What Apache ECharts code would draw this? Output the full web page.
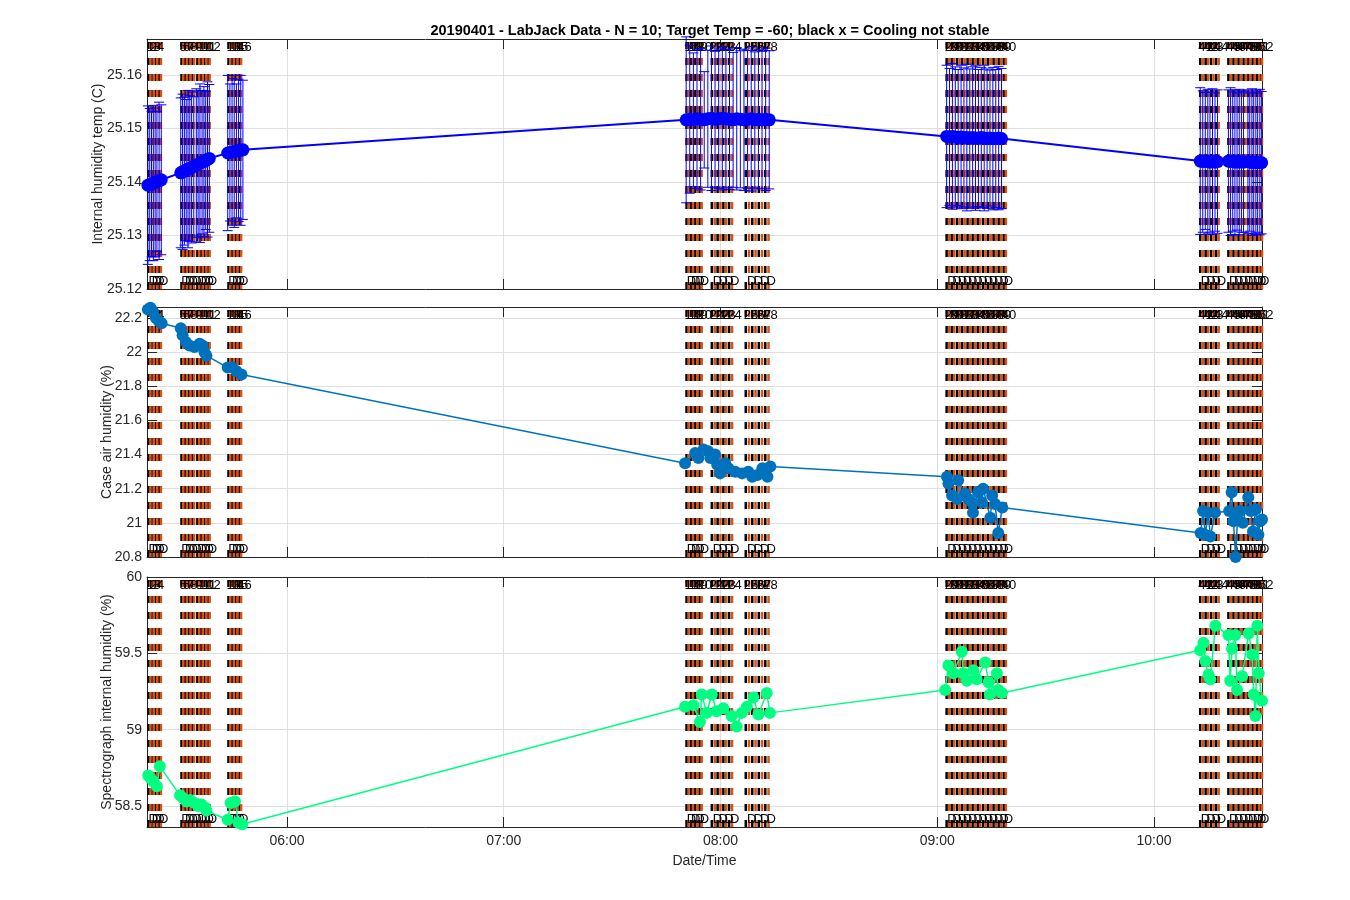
<!DOCTYPE html>
<html><head><meta charset="utf-8">
<script src="https://cdn.jsdelivr.net/npm/echarts@6/dist/echarts.min.js"></script>
<style>html,body{margin:0;padding:0;background:#fff}#c{width:1350px;height:900px}</style>
</head><body><div id="c"></div>
<script>
const chartTitle = '20190401 - LabJack Data - N = 10; Target Temp = -60; black x = Cooling not stable';
const yNames = ['Internal humidity temp (C)', 'Case air humidity (%)', 'Spectrograph internal humidity (%)'];
const xName = 'Date/Time';

// measurement start times (minutes of day) -> black dashed lines with numbers
const measTimes = [321.7,322.6,323.6,324.6, 330.8,331.8,332.8,333.8,335.2,336.2,337.2,338.2, 343.8,344.8,345.8,346.8,
  470.6,471.8,473.0,474.2,477.6,479.2,480.8,482.4,487.0,488.8,490.6,492.4,
  542.6,544.0,545.5,546.9,548.4,549.8,551.2,552.7,554.1,555.6,557.0,558.4,
  612.8,614.3,615.8,617.2,620.6,622.0,623.4,624.8,626.0,627.3,628.6,629.6];
const measLabels = ['1','2','3','4','5','6','7','8','9','10','11','12','13','14','15','16',
  '17','18','19','20','21','22','23','24','25','26','27','28',
  '29','30','31','32','33','34','35','36','37','38','39','40',
  '41','42','43','44','45','46','47','48','49','50','51','52'];
// measurement end times -> orange dashed lines with "D"
const endTimes = [322.2,323.1,324.1,325.1, 331.3,332.3,333.3,334.3,335.7,336.7,337.7,338.6, 344.3,345.3,346.3,347.3,
  471.2,472.4,473.6,474.8,478.4,480.0,481.6,483.2,487.9,489.7,491.5,493.3,
  543.3,544.7,546.2,547.6,549.1,550.5,551.9,553.4,554.8,556.3,557.7,559.0,
  613.5,615.0,616.5,617.9,621.3,622.7,624.1,625.5,626.6,627.9,629.1,629.9];
const endLabels = ['D','D','D','D','D','D','D','D','D','D','D','D','D','D','D','D',
  'D','D','D','D','D','D','D','D','D','D','D','D',
  'D','D','D','D','D','D','D','D','D','D','D','D',
  'D','D','D','D','D','D','D','D','D','D','D','D'];

// Panel 1: internal humidity temp mean and error
const tempTimes = [321.5,322.0,322.5,323.0,323.5,324.0,324.6,325.2,
  330.6,331.1,331.6,332.1,332.6,333.1,333.6,334.2,334.9,335.4,335.9,336.5,337.0,337.5,338.0,338.5,
  343.6,344.2,344.8,345.4,346.0,346.6,347.2,347.8,
  470.5,471.5,472.5,473.5,474.5,475.5,476.5,477.5,478.5,479.5,480.5,481.5,482.5,483.5,484.5,485.5,486.5,487.5,488.5,489.5,490.5,491.5,492.5,493.5,
  542.6,543.4,544.2,545.0,545.8,546.6,547.4,548.2,549.0,549.8,550.6,551.4,552.2,553.0,553.8,554.6,555.4,556.2,557.0,557.8,
  612.8,613.5,614.2,614.9,615.5,616.2,616.9,617.6, 620.6,621.2,621.8,622.4,623.0,623.6,624.2,624.8, 626.0,626.5,627.1,627.6,628.2,628.7,629.3,629.8];
const tempMean = [25.1394,25.1395,25.1396,25.1398,25.1399,25.1401,25.1402,25.1404,
  25.1417,25.1419,25.1420,25.1422,25.1424,25.1425,25.1427,25.1429,25.1431,25.1433,25.1435,25.1437,25.1438,25.1440,25.1442,25.1444,
  25.1454,25.1455,25.1456,25.1457,25.1458,25.1459,25.1459,25.1460,
  25.1516,25.1517,25.1516,25.1518,25.1517,25.1516,25.1518,25.1519,25.1517,25.1518,25.1519,25.1518,25.1517,25.1516,25.1518,25.1517,25.1516,25.1517,25.1518,25.1516,25.1517,25.1516,25.1517,25.1516,
  25.1485,25.1484,25.1485,25.1484,25.1483,25.1484,25.1483,25.1483,25.1482,25.1483,25.1482,25.1482,25.1483,25.1482,25.1481,25.1482,25.1481,25.1481,25.1482,25.1481,
  25.1439,25.1438,25.1439,25.1438,25.1437,25.1438,25.1437,25.1438, 25.1439,25.1438,25.1438,25.1437,25.1438,25.1437,25.1438,25.1437, 25.1438,25.1437,25.1437,25.1436,25.1437,25.1436,25.1437,25.1436];
const tempErr = [0.0148,0.0142,0.0136,0.0145,0.0139,0.0131,0.0147,0.0140,
  0.0140,0.0145,0.0138,0.0132,0.0147,0.0136,0.0141,0.0130,0.0143,0.0137,0.0148,0.0134,0.0140,0.0129,0.0145,0.0138,
  0.0145,0.0128,0.0137,0.0142,0.0125,0.0133,0.0140,0.0130,
  0.0155,0.0138,0.0125,0.0130,0.0132,0.0090,0.0128,0.0135,0.0127,0.0130,0.0134,0.0129,0.0131,0.0126,0.0133,0.0128,0.0132,0.0129,0.0135,0.0127,0.0130,0.0128,0.0133,0.0129,
  0.0133,0.0128,0.0136,0.0131,0.0127,0.0134,0.0130,0.0137,0.0129,0.0132,0.0135,0.0128,0.0131,0.0136,0.0130,0.0127,0.0133,0.0129,0.0134,0.0131,
  0.0137,0.0132,0.0128,0.0135,0.0131,0.0136,0.0129,0.0134, 0.0133,0.0138,0.0130,0.0135,0.0128,0.0136,0.0132,0.0131, 0.0134,0.0129,0.0137,0.0132,0.0135,0.0130,0.0136,0.0133];

// Panel 2: case air humidity
const caseTimes = [321.5,322.2,322.9,323.7,324.6,325.3,
  330.6,331.1,332.0,333.0,334.4,335.8,336.6,337.2,337.7,
  343.6,344.8,346.0,347.4,
  470.2,473.0,473.9,475.3,476.6,477.2,478.5,479.1,479.9,481.3,482.2,484.1,486.0,487.7,488.8,490.2,491.6,493.0,493.8,
  542.7,543.1,544.1,545.5,545.8,547.7,548.6,549.7,549.9,551.3,552.4,552.7,554.7,555.2,556.0,556.9,558.0,
  612.9,613.6,614.2,615.0,615.6,616.9,620.8,621.5,622.0,622.6,623.2,623.9,624.6,626.1,626.8,627.4,628.2,628.9,629.4,629.9];
const caseVals = [22.25,22.26,22.24,22.20,22.18,22.17,
  22.14,22.10,22.06,22.04,22.03,22.05,22.04,22.00,21.98,
  21.91,21.91,21.89,21.87,
  21.35,21.41,21.38,21.43,21.42,21.38,21.40,21.34,21.29,21.35,21.32,21.30,21.29,21.30,21.27,21.28,21.32,21.27,21.33,
  21.27,21.23,21.16,21.14,21.25,21.17,21.14,21.12,21.06,21.18,21.12,21.20,21.03,21.16,21.11,20.94,21.09,
  20.94,21.07,20.93,21.06,20.92,21.06,21.07,21.18,21.01,20.80,21.06,21.07,21.00,21.15,21.07,20.95,21.08,20.93,21.01,21.02];

// Panel 3: spectrograph internal humidity
const specTimes = [321.6,322.3,323.0,324.0,324.8,
  330.4,331.3,332.2,333.2,334.5,335.4,336.3,337.3,337.7,
  343.6,344.4,345.6,346.6,347.6,
  470.2,472.5,474.3,474.8,476.2,477.6,478.9,480.8,483.1,484.5,485.9,487.3,489.1,490.5,492.8,493.7,
  542.2,543.1,544.5,546.8,547.2,548.2,550.0,550.9,553.3,554.2,554.6,556.5,556.9,557.9,
  612.8,613.7,614.2,615.1,615.6,617.0,620.6,621.1,621.6,622.5,623.0,624.4,626.2,627.2,627.6,628.1,628.6,629.0,629.9];
const specVals = [58.70,58.68,58.66,58.63,58.76,
  58.57,58.55,58.53,58.54,58.52,58.50,58.51,58.49,58.47,
  58.41,58.52,58.53,58.39,58.38,
  59.15,59.16,59.05,59.23,59.11,59.23,59.12,59.14,59.09,59.02,59.11,59.15,59.21,59.10,59.24,59.11,
  59.26,59.42,59.37,59.51,59.37,59.32,59.39,59.33,59.44,59.31,59.23,59.37,59.26,59.24,
  59.52,59.57,59.45,59.36,59.33,59.68,59.62,59.32,59.53,59.62,59.26,59.35,59.63,59.49,59.23,59.09,59.68,59.37,59.19];

const FONT = '"Liberation Sans", Arial, Helvetica, sans-serif';
const base = new Date(2019, 3, 1).getTime();
const ms = m => base + m * 60000;
const X_MIN = ms(321.25), X_MAX = ms(629.9);

const grids = [
  {left:147, top:39, width:1115, height:250},
  {left:147, top:307, width:1115, height:250},
  {left:147, top:577, width:1115, height:250}
];
const yCfg = [
  {min:25.12, max:25.1667, interval:0.01, step:0.01, nameGap:42},
  {min:20.8, max:22.265, interval:0.2, step:0.2, nameGap:33},
  {min:58.3625, max:60, splitNumber:3, step:0.5, nameGap:33}
];
const pad = n => (n < 10 ? '0' : '') + n;
const TXT = '#262626';
const xAxes = [], yAxes = [];
grids.forEach((g, i) => {
  xAxes.push({
    type:'time', gridIndex:i, min:X_MIN, max:X_MAX, position:'bottom',
    name: i === 2 ? xName : '', nameLocation:'middle', nameGap:27, nameMoveOverlap:false,
    nameTextStyle:{fontFamily:FONT, fontSize:14, color:TXT},
    axisLine:{show:true, onZero:false, lineStyle:{color:TXT, width:1}},
    axisTick:{show:true, inside:true, length:10, lineStyle:{color:TXT}},
    minorTick:{show:false},
    axisLabel:{show: i === 2, color:TXT, fontFamily:FONT, fontSize:14, margin:7,
      showMinLabel:false, showMaxLabel:false,
      formatter: v => { const d = new Date(v); return d.getMinutes() === 0 && d.getSeconds() === 0 ? pad(d.getHours()) + ':' + pad(d.getMinutes()) : ''; }},
    splitLine:{show:true, lineStyle:{color:'#dfdfdf', width:1}}
  });
  xAxes.push({
    type:'time', gridIndex:i, min:X_MIN, max:X_MAX, position:'top',
    axisLine:{show:true, onZero:false, lineStyle:{color:TXT, width:1}},
    axisTick:{show:true, inside:true, length:10, lineStyle:{color:TXT}},
    axisLabel:{show:false}, splitLine:{show:false}
  });
  const c = yCfg[i];
  const onStep = v => Math.abs(v / c.step - Math.round(v / c.step)) < 1e-4;
  const yl = {
    type:'value', gridIndex:i, min:c.min, max:c.max, position:'left',
    name: yNames[i], nameLocation:'middle', nameGap:c.nameGap, nameRotate:90, nameMoveOverlap:false,
    nameTextStyle:{fontFamily:FONT, fontSize:14, color:TXT},
    axisLine:{show:true, onZero:false, lineStyle:{color:TXT, width:1}},
    axisTick:{show:true, inside:true, length:10, lineStyle:{color:TXT}},
    axisLabel:{color:TXT, fontFamily:FONT, fontSize:14, margin:5,
      formatter: v => onStep(v) ? String(+(Math.round(v / c.step) * c.step).toFixed(4)) : ''},
    splitLine:{show:true, lineStyle:{color:'#dfdfdf', width:1}}
  };
  if (c.interval) yl.interval = c.interval; else yl.splitNumber = c.splitNumber;
  yAxes.push(yl);
  const yr = {
    type:'value', gridIndex:i, min:c.min, max:c.max, position:'right',
    axisLine:{show:true, onZero:false, lineStyle:{color:TXT, width:1}},
    axisTick:{show:true, inside:true, length:10, lineStyle:{color:TXT}},
    axisLabel:{show:false}, splitLine:{show:false}
  };
  if (c.interval) yr.interval = c.interval; else yr.splitNumber = c.splitNumber;
  yAxes.push(yr);
});

function vlines(gi, times, labels, color, top) {
  return {
    type:'custom', xAxisIndex:gi*2, yAxisIndex:gi*2, silent:true, z:1, clip:false,
    data: times.map(t => [ms(t)]),
    encode:{x:0},
    renderItem(params, api) {
      const cs = params.coordSys;
      const x = api.coord([api.value(0), yCfg[gi].min])[0];
      const kids = [{type:'line', shape:{x1:x, y1:cs.y + cs.height, x2:x, y2:cs.y},
        style:{stroke:color, lineWidth:2.5, lineDash:[7,9]}}];
      kids.push({type:'text', z2:10, style:{text: labels[params.dataIndex], x:x - 2, y: top ? cs.y + 2 : cs.y + cs.height - 1,
        align:'left', verticalAlign: top ? 'top' : 'bottom', fill:'#000', font:'13px ' + FONT}});
      return {type:'group', children:kids};
    }
  };
}
function line(gi, times, vals, color, width, size) {
  return {type:'line', xAxisIndex:gi*2, yAxisIndex:gi*2, z:5,
    data: times.map((t, k) => [ms(t), vals[k]]),
    symbol:'circle', symbolSize:size, showAllSymbol:true, animation:false,
    itemStyle:{color:color}, lineStyle:{color:color, width:width}};
}
const errSeries = {
  type:'custom', xAxisIndex:0, yAxisIndex:0, z:4, silent:true,
  data: tempTimes.map((t, k) => [ms(t), tempMean[k] - tempErr[k], tempMean[k] + tempErr[k]]),
  encode:{x:0, y:[1,2]},
  renderItem(params, api) {
    const lo = api.coord([api.value(0), api.value(1)]);
    const hi = api.coord([api.value(0), api.value(2)]);
    const s = {stroke:'#0000ff', lineWidth:1};
    return {type:'group', children:[
      {type:'line', shape:{x1:lo[0], y1:lo[1], x2:hi[0], y2:hi[1]}, style:s},
      {type:'line', shape:{x1:lo[0]-5, y1:lo[1], x2:lo[0]+5, y2:lo[1]}, style:s},
      {type:'line', shape:{x1:hi[0]-5, y1:hi[1], x2:hi[0]+5, y2:hi[1]}, style:s}
    ]};
  }
};

const series = [];
for (let g = 0; g < 3; g++) {
  series.push(vlines(g, measTimes, measLabels, '#000000', true));
  series.push(vlines(g, endTimes, endLabels, '#D95319', false));
}
series.push(errSeries);
series.push(line(0, tempTimes, tempMean, '#0000ff', 2, 13));
series.push(line(1, caseTimes, caseVals, '#0072BD', 1.5, 12));
series.push(line(2, specTimes, specVals, '#00FF80', 1.5, 12));

const chart = echarts.init(document.getElementById('c'), null, {renderer:'canvas'});
chart.setOption({
  animation:false,
  backgroundColor:'#fff',
  title:{text:chartTitle, left:705, top:18, textAlign:'center',
    textStyle:{fontFamily:FONT, fontSize:14.5, fontWeight:'bold', color:'#000'}},
  grid: grids.map(g => Object.assign({containLabel:false}, g)),
  xAxis: xAxes, yAxis: yAxes, series: series
});
</script></body></html>
